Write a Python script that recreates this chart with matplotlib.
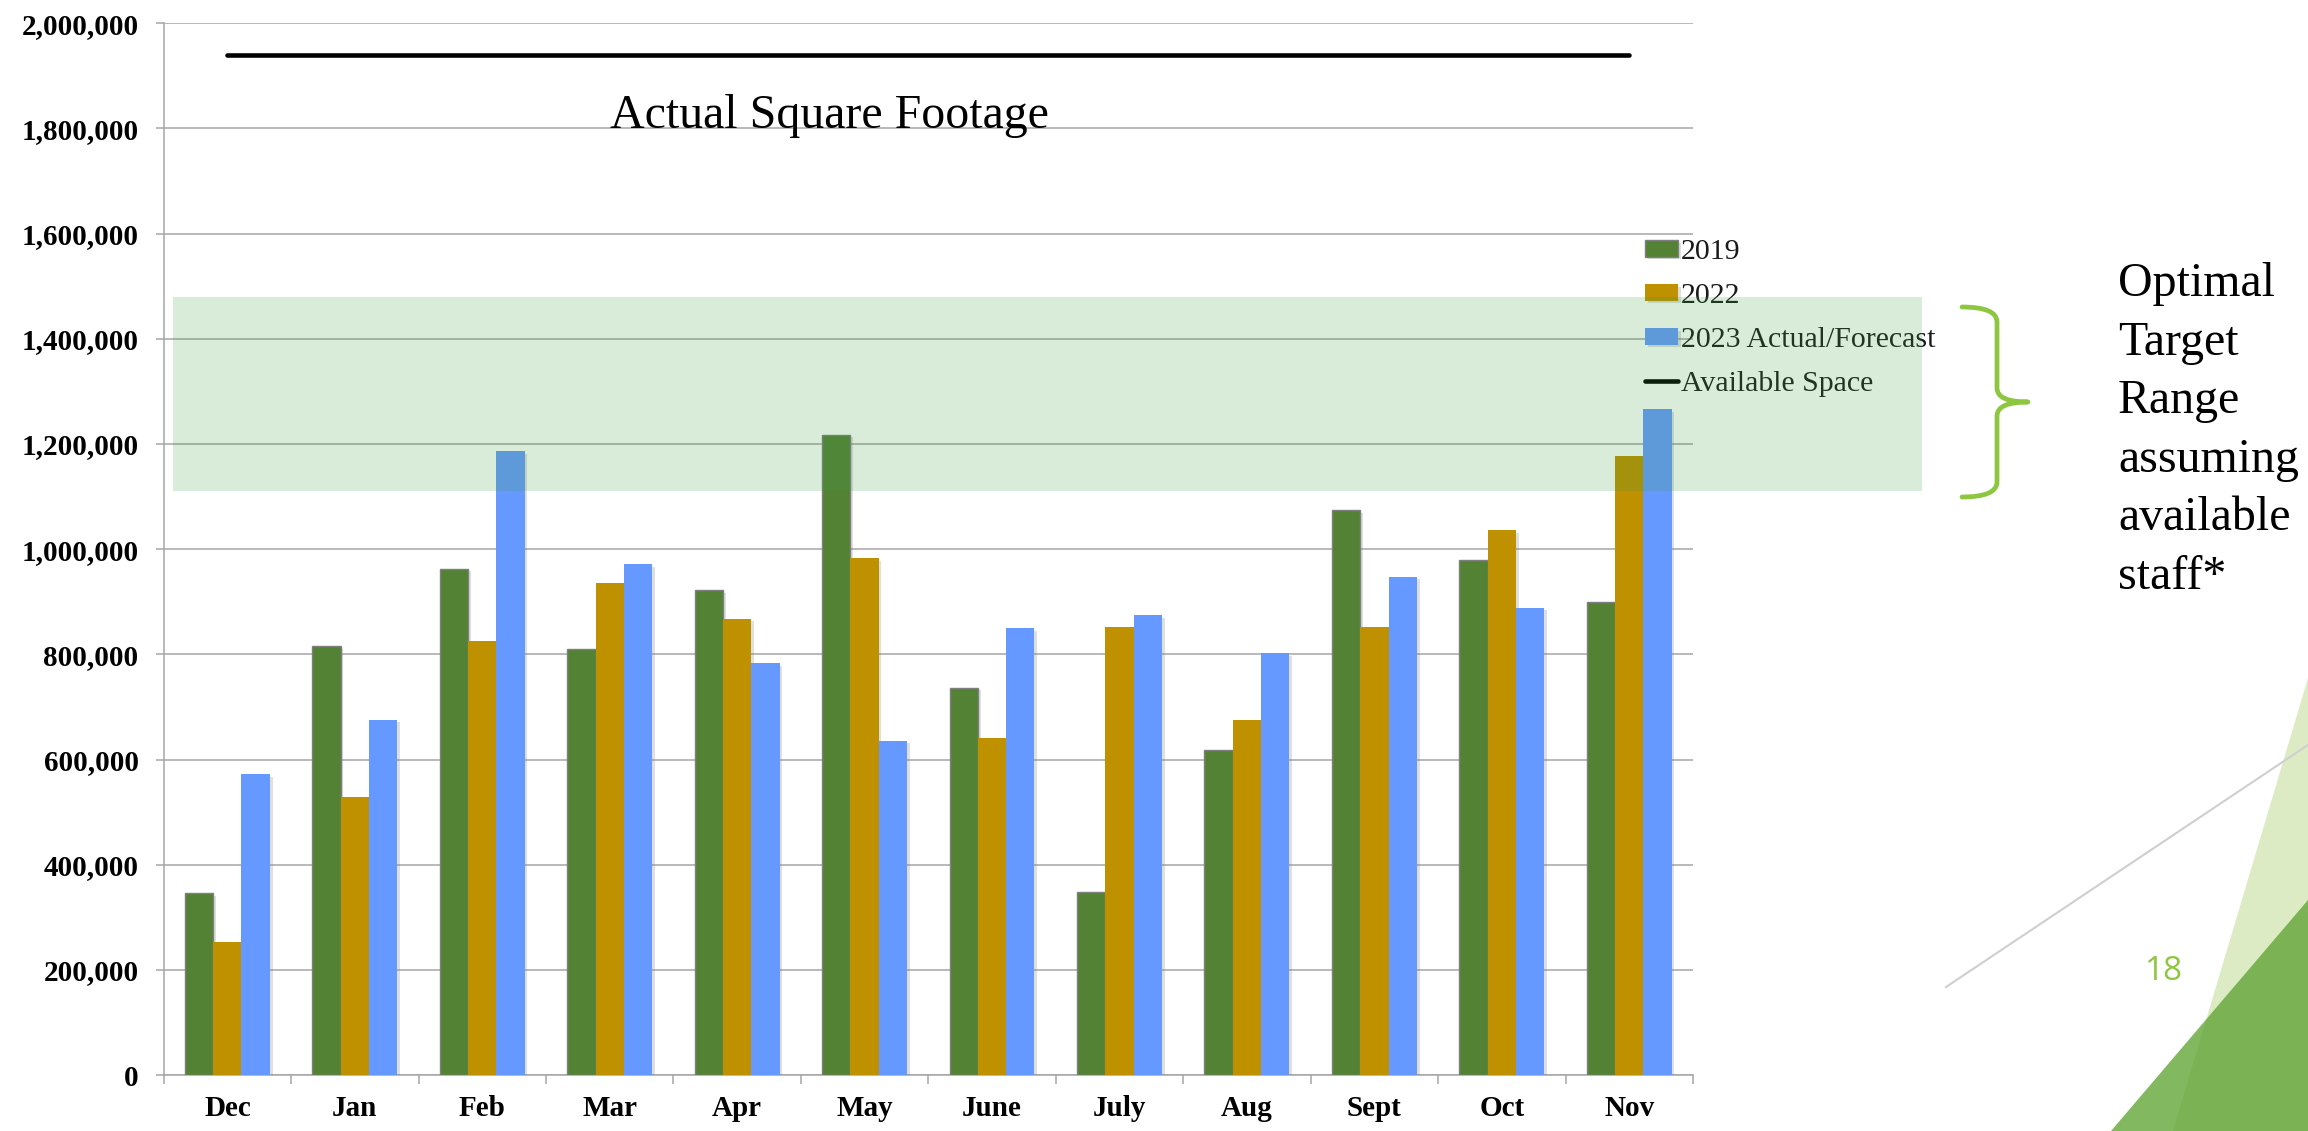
import numpy as np
import matplotlib.pyplot as plt
import matplotlib.patheffects as pe
from matplotlib.patches import Rectangle, Polygon, PathPatch
from matplotlib.path import Path
from matplotlib.lines import Line2D
from matplotlib.ticker import FuncFormatter, MultipleLocator, FixedLocator

# ---------------- DATA ----------------
MONTHS = ["Dec", "Jan", "Feb", "Mar", "Apr", "May",
          "June", "July", "Aug", "Sept", "Oct", "Nov"]

SF_2019 = [346000, 816000, 963000, 811000, 922000, 1218000,
           737000, 349000, 619000, 1074000, 979000, 899000]
SF_2022 = [254000, 529000, 825000, 935000, 868000, 983000,
           642000, 853000, 675000, 853000, 1037000, 1177000]
SF_2023 = [573000, 676000, 1187000, 971000, 784000, 636000,
           850000, 874000, 803000, 948000, 889000, 1266000]

SERIES_NAMES = ["2019", "2022", "2023 Actual/Forecast"]
AVAILABLE_SPACE = 1940000
TARGET_RANGE = (1110000, 1480000)

# ---------------- STYLE ----------------
COLORS = ["#538235", "#BF9000", "#6699FF"]
BRACE_GREEN = "#8DC63F"
GRID_GRAY = "#A6A6A6"
SERIF = "Liberation Serif"
TICK_FONTSIZE = 21

W, H = 2308, 1131


def fx(x):
    return x / W


def fy(y):
    return 1 - y / H


fig = plt.figure(figsize=(W / 100, H / 100), dpi=100)
ax = fig.add_axes([fx(163.6), fy(1075.2), fx(1693) - fx(163.6), fy(23.2) - fy(1075.2)])

x = np.arange(len(MONTHS))
width = 0.222
shadow = [pe.SimplePatchShadow(offset=(2, -2), shadow_rgbFace="gray", alpha=0.25), pe.Normal()]

handles = []
for i, (vals, name) in enumerate(zip([SF_2019, SF_2022, SF_2023], SERIES_NAMES)):
    b = ax.bar(x + (i - 1) * width, vals, width,
               color=COLORS[i], label=name, zorder=3,
               edgecolor="#7F7F7F" if i == 0 else "none", linewidth=1.0 if i == 0 else 0,
               path_effects=shadow)
    handles.append(b)

line, = ax.plot(x, [AVAILABLE_SPACE] * len(x), color="black", lw=3.3,
                solid_capstyle="round", label="Available Space", zorder=4)
handles.append(line)

ax.set_xlim(-0.5, len(MONTHS) - 0.5)
ax.set_ylim(0, 2000000)

ax.yaxis.set_major_locator(MultipleLocator(200000))
ax.yaxis.set_major_formatter(FuncFormatter(lambda v, p: f"{v:,.0f}"))
ax.yaxis.grid(True, color=GRID_GRAY, lw=1.1)
ax.set_axisbelow(True)

ax.set_xticks(x)
ax.set_xticklabels(MONTHS)
ax.xaxis.set_minor_locator(FixedLocator(np.arange(-0.5, len(MONTHS), 1.0)))
ax.tick_params(axis="x", which="major", length=0, pad=14)
ax.tick_params(axis="x", which="minor", length=6.5, color=GRID_GRAY, width=1.1)
ax.tick_params(axis="y", length=6, color=GRID_GRAY, width=1.1, pad=12)

for lab in ax.get_xticklabels() + ax.get_yticklabels():
    lab.set_fontfamily(SERIF)
    lab.set_fontweight("bold")
    lab.set_fontsize(TICK_FONTSIZE)

for s in ["top", "right"]:
    ax.spines[s].set_visible(False)
for s in ["left", "bottom"]:
    ax.spines[s].set_color(GRID_GRAY)
    ax.spines[s].set_linewidth(1.1)

ax.text(3.0, 1800000, "Actual Square Footage", fontfamily=SERIF,
        fontsize=34.5, ha="left", va="baseline", zorder=5)

leg = ax.legend(handles=handles, labels=SERIES_NAMES + ["Available Space"],
                loc="upper left", bbox_to_anchor=(fx(1645), fy(239)),
                bbox_transform=fig.transFigure, frameon=False,
                prop={"family": SERIF, "size": 21.5},
                handlelength=1.1, handleheight=0.48, handletextpad=0.1,
                labelspacing=0.6, borderpad=0, borderaxespad=0)
for t in leg.get_texts():
    t.set_color("#1a1a1a")

# target range band, drawn over bars and legend
band = Rectangle((-0.43, TARGET_RANGE[0]), 13.73, TARGET_RANGE[1] - TARGET_RANGE[0],
                 transform=ax.transData, facecolor=(65 / 255, 155 / 255, 65 / 255),
                 alpha=0.2, edgecolor="none", clip_on=False, zorder=2)
fig.add_artist(band)

# brace
bp = [(1962, 307), (1997, 307), (1997, 322), (1997, 388), (1997, 402), (2028, 402),
      (1997, 402), (1997, 416), (1997, 482), (1997, 497), (1962, 497)]
codes = [Path.MOVETO, Path.CURVE3, Path.CURVE3, Path.LINETO, Path.CURVE3, Path.CURVE3,
         Path.CURVE3, Path.CURVE3, Path.LINETO, Path.CURVE3, Path.CURVE3]
brace = PathPatch(Path([(fx(a), fy(b)) for a, b in bp], codes),
                  transform=fig.transFigure, facecolor="none",
                  edgecolor=BRACE_GREEN, lw=3.4, capstyle="round", joinstyle="round")
fig.add_artist(brace)

fig.text(fx(2118), fy(262), "Optimal\nTarget\nRange\nassuming\navailable\nstaff*",
         fontfamily=SERIF, fontsize=34.5, ha="left", va="top", linespacing=1.43)

# slide decorations
fig.add_artist(Polygon([(fx(2308), fy(678)), (fx(2173), fy(1131)), (fx(2308), fy(1131))],
                       closed=True, transform=fig.transFigure,
                       facecolor="#DDEBC5", edgecolor="none", zorder=1))
fig.add_artist(Polygon([(fx(2308), fy(900)), (fx(2111), fy(1131)), (fx(2308), fy(1131))],
                       closed=True, transform=fig.transFigure,
                       facecolor="#63A638", alpha=0.8, edgecolor="none", zorder=1))
fig.add_artist(Line2D([fx(1946), fx(2308)], [fy(987), fy(745)], transform=fig.transFigure,
                      color="#CFCFCF", lw=1.5, zorder=2))
fig.text(fx(2164), fy(972), "18", fontfamily="Open Sans", fontsize=24,
         color=BRACE_GREEN, ha="center", va="center")

fig.savefig("out.png", dpi=100)
